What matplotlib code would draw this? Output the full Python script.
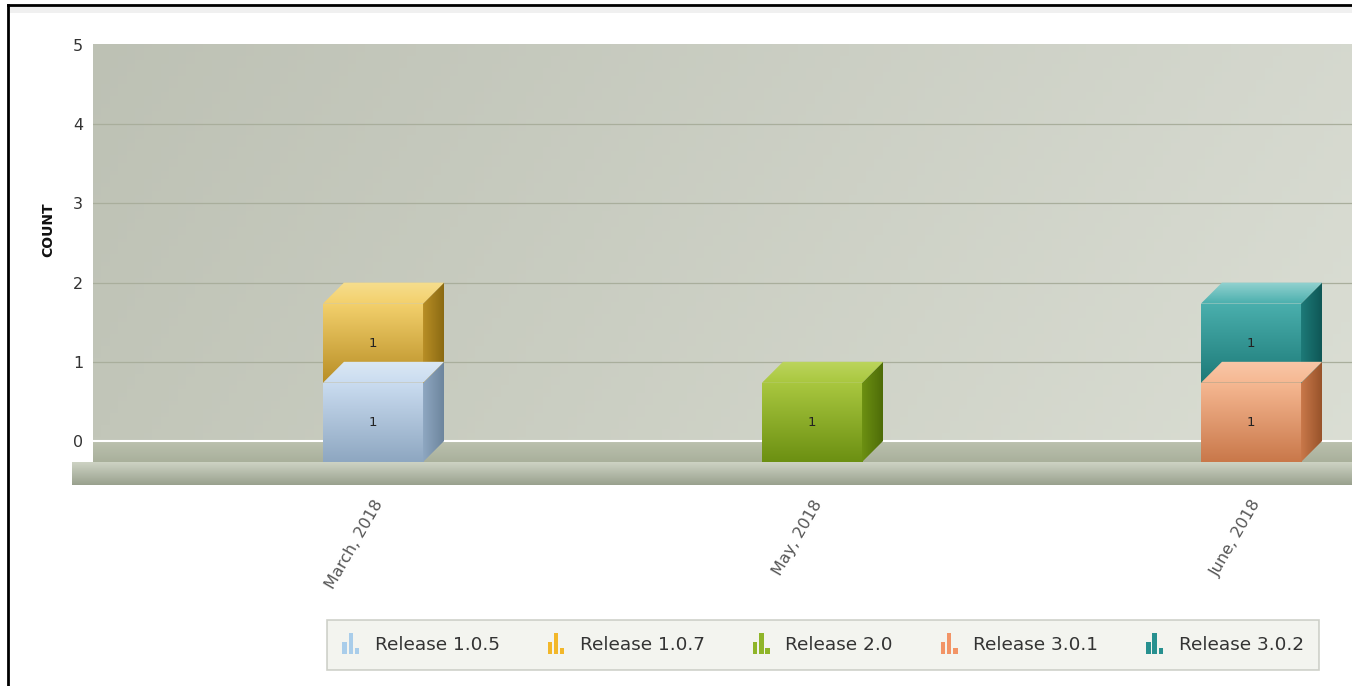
import matplotlib
matplotlib.use("Agg")
import matplotlib.pyplot as plt
import numpy as np
from matplotlib.colors import to_rgb
from matplotlib.legend_handler import HandlerBase
from matplotlib.lines import Line2D
from matplotlib.patches import Polygon, Rectangle

# datos
meses = ["March, 2018", "May, 2018", "June, 2018"]
releases = ["Release 1.0.5", "Release 1.0.7", "Release 2.0", "Release 3.0.1", "Release 3.0.2"]
r105 = [1, 0, 0]
r107 = [1, 0, 0]
r20 = [0, 1, 0]
r301 = [0, 0, 1]
r302 = [0, 0, 1]
series = [r105, r107, r20, r301, r302]

# cara frontal arriba, cara frontal abajo, lado, tapa, icono leyenda
colores = [
    ("#cadcf0", "#8ea7c1", "#6d859d", "#dbe8f4", "#a9cdea"),
    ("#f3d06c", "#b88e26", "#8b6a12", "#f6de8e", "#f2b72a"),
    ("#a9c73f", "#6c9012", "#4e6c08", "#bcd55d", "#8fb529"),
    ("#f6b892", "#c9784a", "#98532a", "#f8c7a8", "#f29466"),
    ("#4aafad", "#1d7a78", "#0f5756", "#93d2d0", "#27908f"),
]

ANCHO = 0.228
DX = 21 / 439      # profundidad 3d en x
DY = 21 / 79.2     # profundidad 3d en y
GROSOR = 23 / 79.2


def degradado(ax, patch, c1, c2, z, horizontal=False):
    # rellena el patch con un degradado lineal c1 -> c2 (arriba->abajo o izq->der)
    ax.add_patch(patch)
    patch.set_facecolor("none")
    patch.set_edgecolor("none")
    patch.set_zorder(z)
    a, b = np.array(to_rgb(c1)), np.array(to_rgb(c2))
    t = np.linspace(0, 1, 64)
    g = a[None, :] * (1 - t[:, None]) + b[None, :] * t[:, None]
    img = g[None, :, :] if horizontal else g[:, None, :]
    if isinstance(patch, Polygon):
        xy = patch.get_xy()
        ext = [xy[:, 0].min(), xy[:, 0].max(), xy[:, 1].min(), xy[:, 1].max()]
    else:
        x0, y0 = patch.get_xy()
        ext = [x0, x0 + patch.get_width(), y0, y0 + patch.get_height()]
    im = ax.imshow(img, extent=ext, aspect="auto", zorder=z,
                   interpolation="bilinear", origin="upper")
    im.set_clip_path(patch)
    return im


class Icono(HandlerBase):
    def create_artists(self, legend, orig_handle, xdescent, ydescent, width, height, fontsize, trans):
        c = orig_handle.get_facecolor()
        w = width / 4.3
        alturas = [0.55, 1.0, 0.3]
        arts = []
        for k, h in enumerate(alturas):
            r = Rectangle((-xdescent + k * w * 1.45, -ydescent - 3), w, (height + 6) * h,
                          facecolor=c, edgecolor="none", transform=trans)
            arts.append(r)
        return arts


fig = plt.figure(figsize=(13.52, 6.86), dpi=100)
fig.patch.set_facecolor("white")
ax = fig.add_axes([93 / 1352, 1 - 486 / 686, 1 - 93 / 1352, (486 - 44) / 686])

xl = (93 - 373) / 439
xr = (1352 - 373) / 439
yb = -0.568
yt = 5.0126

# pared del fondo
fila = np.linspace(0, 1, 200)
col = np.linspace(0, 1, 100)
izq = np.array(to_rgb("#c2c6b9"))
der = np.array(to_rgb("#e3e6dd"))
pared = izq[None, None, :] * (1 - fila[None, :, None]) + der[None, None, :] * fila[None, :, None]
pared = pared * (0.975 + 0.025 * col[:, None, None])
ax.imshow(np.clip(pared, 0, 1), extent=[xl, xr + 1, 0, 5], aspect="auto", zorder=0, origin="upper")

for v in range(1, 5):
    ax.axhline(v, color="#a9ae9c", lw=0.9, zorder=1)

# piso
tapa_piso = Polygon([(xl, 0), (xr + 1, 0), (xr + 1, -DY), (xl - DX, -DY)], closed=True)
degradado(ax, tapa_piso, "#bcc2b0", "#a9b09b", 2)
frente_piso = Rectangle((xl - DX, -DY - GROSOR), xr + 1 - xl + DX, GROSOR)
degradado(ax, frente_piso, "#d0d5c6", "#99a18e", 2)
for p in (tapa_piso, frente_piso):
    p.set_clip_on(False)
ax.plot([xl, xr + 1], [0, 0], color="white", lw=1.5, zorder=2.5, solid_capstyle="butt")

# barras apiladas con cara frontal, lateral y tapa
x = np.arange(len(meses))
base = np.zeros(len(meses))
for serie, cs in zip(series, colores):
    vals = np.array(serie, dtype=float)
    for i in range(len(meses)):
        if vals[i] == 0:
            continue
        b0 = base[i] - DY
        b1 = base[i] + vals[i] - DY
        x0 = x[i] - ANCHO / 2
        x1 = x[i] + ANCHO / 2
        ax.bar(x[i], vals[i], bottom=b0, width=ANCHO, color="none", zorder=3)
        degradado(ax, Rectangle((x0, b0), ANCHO, vals[i]), cs[0], cs[1], 3)
        lado = Polygon([(x1, b0), (x1 + DX, b0 + DY), (x1 + DX, b1 + DY), (x1, b1)], closed=True)
        degradado(ax, lado, cs[1], cs[2], 3, horizontal=True)
        tapa = Polygon([(x0, b1), (x1, b1), (x1 + DX, b1 + DY), (x0 + DX, b1 + DY)], closed=True)
        degradado(ax, tapa, cs[3], cs[0], 3.5)
        ax.text(x[i], (b0 + b1) / 2, f"{int(vals[i])}", ha="center", va="center",
                fontsize=9.5, color="#222222", zorder=5)
    base += vals

ax.set_xlim(xl, xr)
ax.set_ylim(yb, yt)
ax.set_yticks(range(0, 6))
ax.set_yticklabels([str(v) for v in range(0, 6)], fontsize=11.5, color="#333333")
ax.tick_params(axis="y", length=0, pad=7)
ax.set_xticks(x)
ax.set_xticklabels(meses, rotation=60, ha="right", rotation_mode="anchor",
                   fontsize=11.5, color="#555555")
ax.tick_params(axis="x", length=0, pad=8)
for s in ax.spines.values():
    s.set_visible(False)

fig.text(48 / 1352, 1 - 230 / 686, "COUNT", rotation=90, ha="center", va="center",
         fontsize=10, fontweight="bold", color="#111111")

# leyenda
handles = [Rectangle((0, 0), 1, 1, facecolor=cs[4]) for cs in colores]
leg = fig.legend(handles, releases, loc="center", bbox_to_anchor=(823 / 1352, 1 - 645 / 686),
                 ncol=5, frameon=True, fontsize=13.3, handler_map={Rectangle: Icono()},
                 handlelength=1.0, handletextpad=0.75, columnspacing=2.6, borderpad=0.85,
                 fancybox=False)
leg.get_frame().set_facecolor("#f1f2ec")
leg.get_frame().set_edgecolor("#c4c6be")
leg.get_frame().set_linewidth(1.2)
for t in leg.get_texts():
    t.set_color("#333333")

# marco negro de la captura
fig.add_artist(Rectangle((8 / 1352, 1 - 13 / 686), 1, 7 / 686, transform=fig.transFigure,
                         facecolor="#f0f0f0", edgecolor="none"))
fig.add_artist(Line2D([8 / 1352, 8 / 1352], [0, 1 - 5 / 686], color="black", lw=2))
fig.add_artist(Line2D([8 / 1352, 1], [1 - 5 / 686, 1 - 5 / 686], color="black", lw=2))

fig.savefig("out.png", dpi=100)
